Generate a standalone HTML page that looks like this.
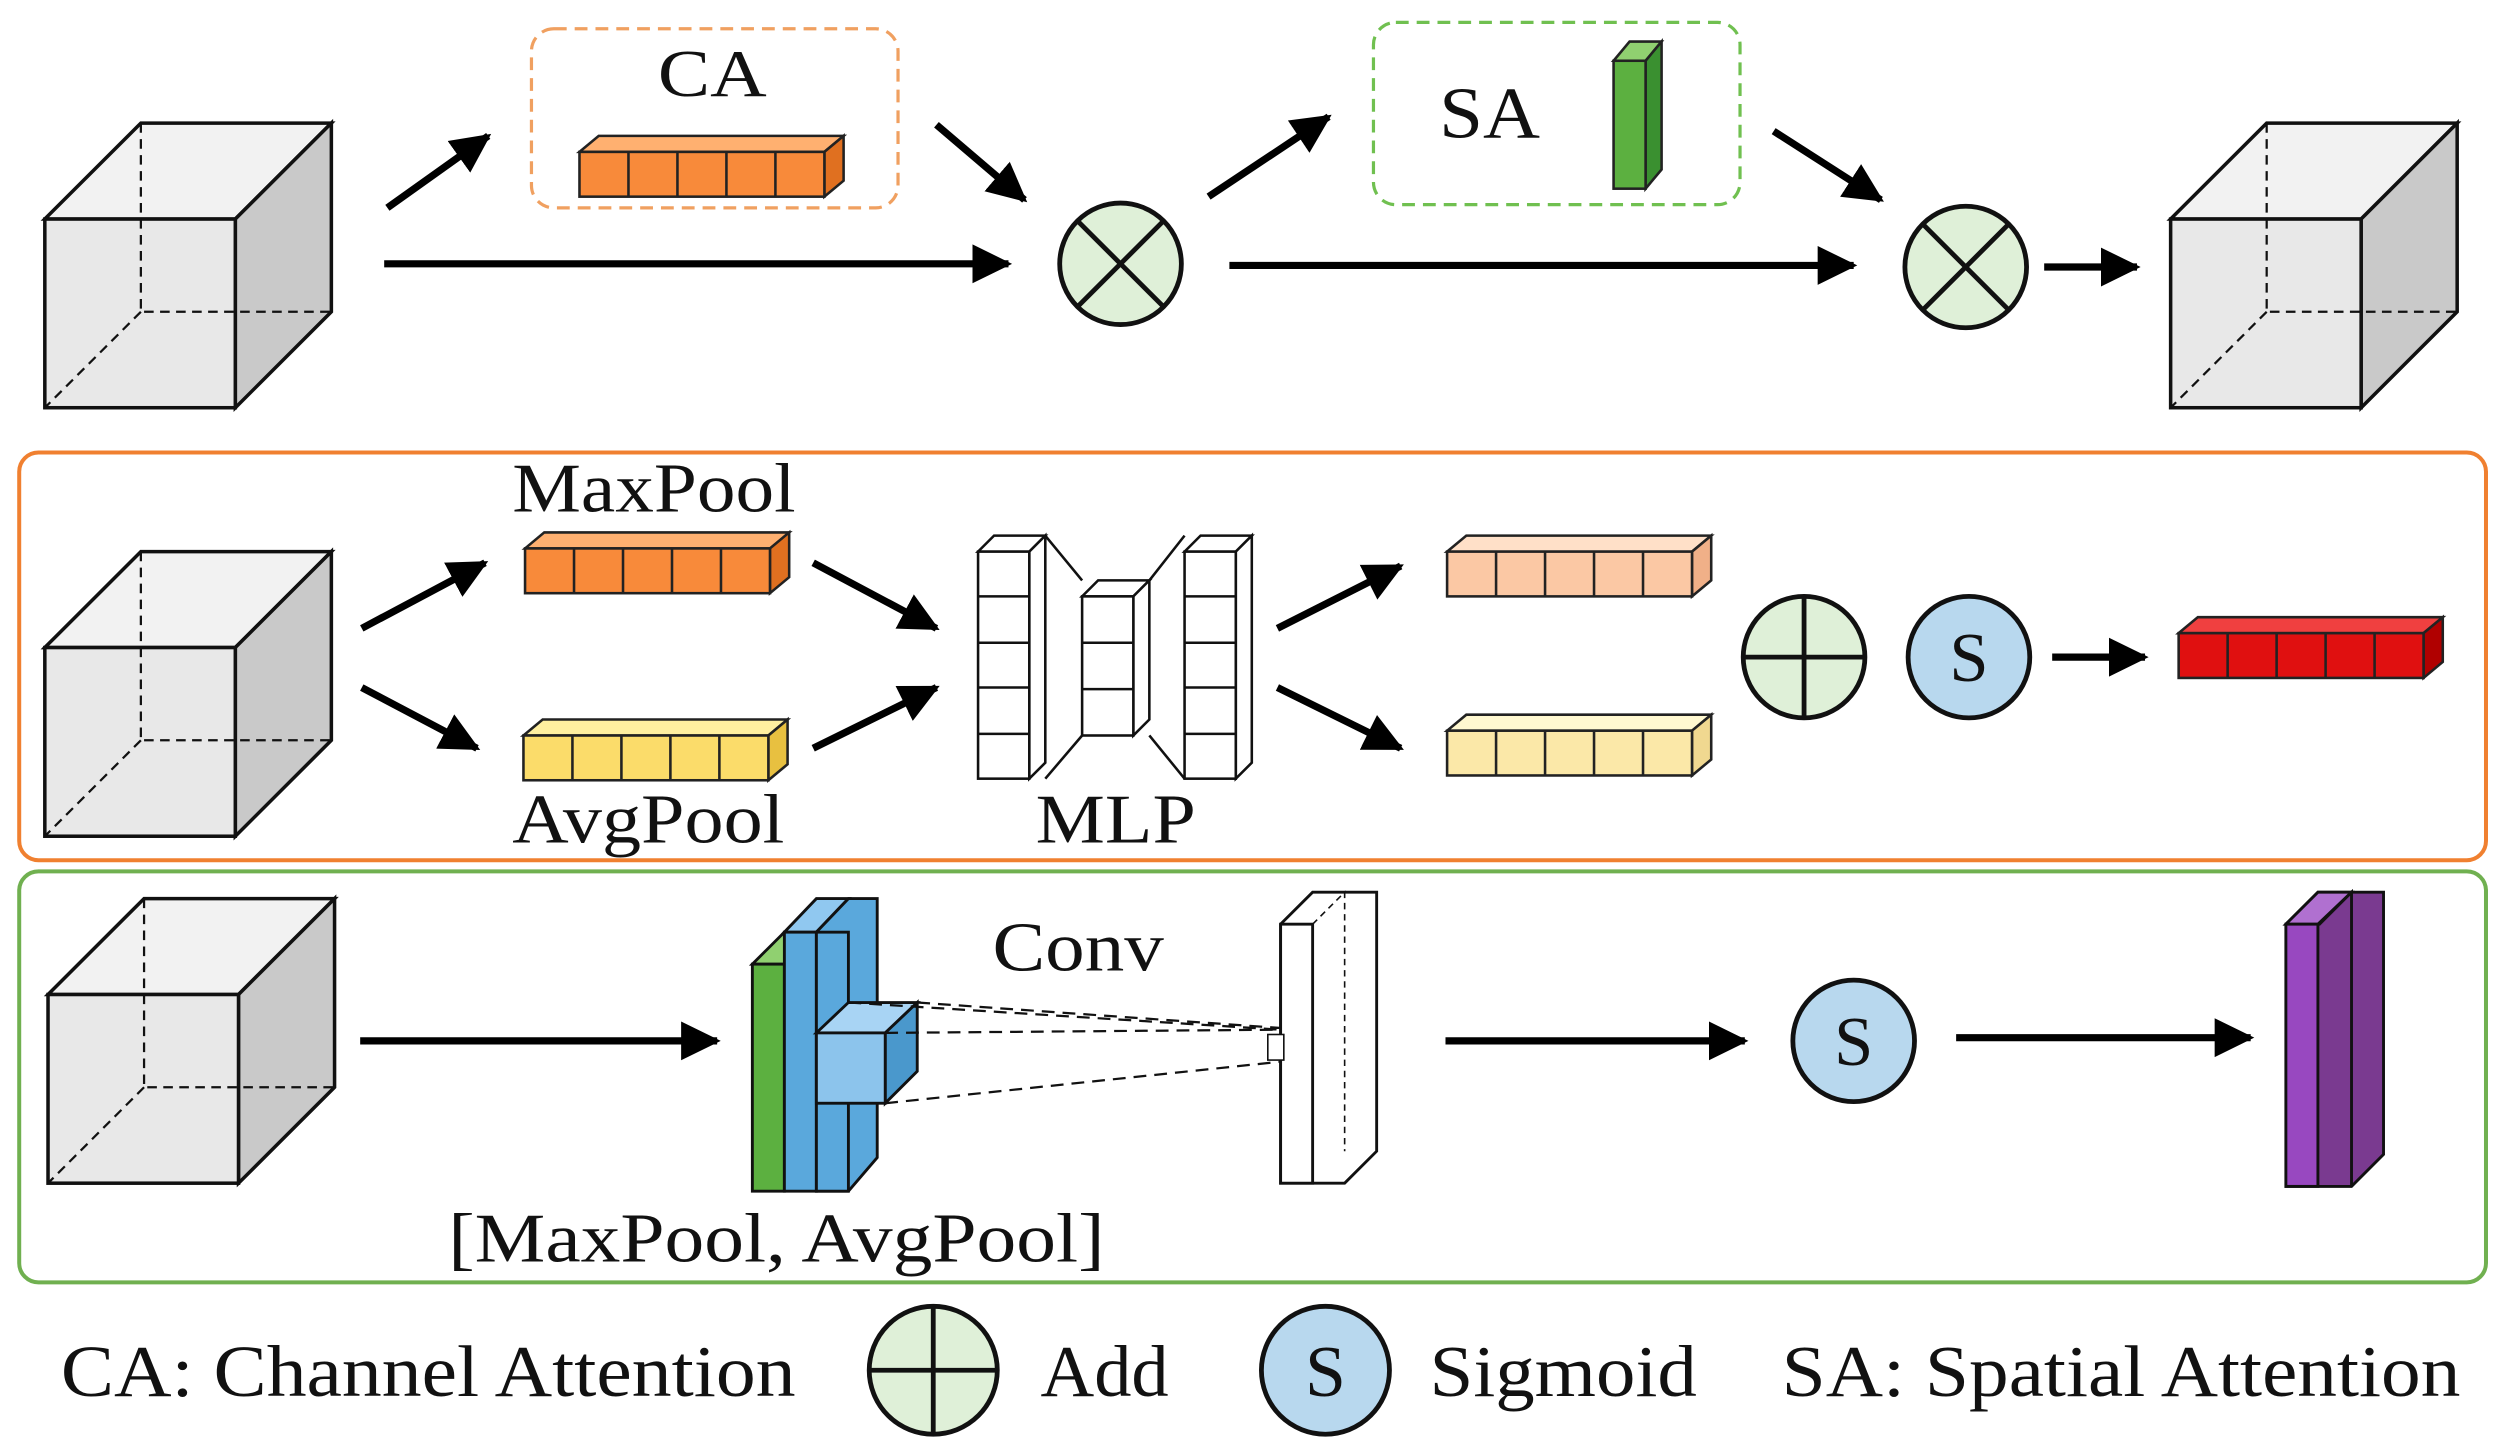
<!DOCTYPE html>
<html><head><meta charset="utf-8"><style>html,body{margin:0;padding:0;background:#fff}svg{display:block}text{font-family:"Liberation Serif",serif;fill:#111}</style></head>
<body>
<svg width="2510" height="1455" viewBox="0 0 1568 910" preserveAspectRatio="none" xmlns="http://www.w3.org/2000/svg">
<defs>
<marker id="ah" markerWidth="6" markerHeight="6" refX="5" refY="3" orient="auto" markerUnits="strokeWidth"><path d="M0,0.3 L5.5,3 L0,5.7 Z" fill="#000"/></marker>
<g id="cube" stroke="#111" stroke-width="2.2">
<polygon points="0,60 60,0 179,0 119,60" fill="#f2f2f2"/>
<polygon points="119,60 179,0 179,118 119,178" fill="#c9c9c9"/>
<rect x="0" y="60" width="119" height="118" fill="#e8e8e8"/>
<g stroke-dasharray="6,4" stroke-width="1.4" fill="none"><path d="M60,0 V118 H179 M60,118 L0,178"/></g>
</g>
</defs>
<rect x="12" y="283" width="1541" height="255" rx="12" fill="none" stroke="#f08030" stroke-width="2.5"/>
<rect x="12" y="545" width="1541" height="257" rx="12" fill="none" stroke="#70b050" stroke-width="2.5"/>
<rect x="332" y="18" width="229" height="112" rx="14" fill="none" stroke="#f0a060" stroke-width="2" stroke-dasharray="8,5"/>
<rect x="858" y="14" width="229" height="114" rx="14" fill="none" stroke="#70c050" stroke-width="2" stroke-dasharray="8,5"/>
<use href="#cube" x="28" y="77"/>
<use href="#cube" x="1356" y="77"/>
<use href="#cube" x="28" y="345"/>
<use href="#cube" x="30" y="562"/>
<g stroke="#222" stroke-width="1.6">
<g transform="translate(362,95)"><polygon points="0,0 12,-10 165,-10 153,0" fill="#ffb070"/><polygon points="153,0 165,-10 165,18 153,28" fill="#e07020"/><rect width="153" height="28" fill="#f88a3a"/><path d="M30.6,0V28M61.2,0V28M91.8,0V28M122.4,0V28" fill="none"/></g>
<g transform="translate(328,343)"><polygon points="0,0 12,-10 165,-10 153,0" fill="#ffb070"/><polygon points="153,0 165,-10 165,18 153,28" fill="#e07020"/><rect width="153" height="28" fill="#f88a3a"/><path d="M30.6,0V28M61.2,0V28M91.8,0V28M122.4,0V28" fill="none"/></g>
<g transform="translate(327,460)"><polygon points="0,0 12,-10 165,-10 153,0" fill="#fff0a0"/><polygon points="153,0 165,-10 165,18 153,28" fill="#e8c040"/><rect width="153" height="28" fill="#fbdc6a"/><path d="M30.6,0V28M61.2,0V28M91.8,0V28M122.4,0V28" fill="none"/></g>
<g transform="translate(904,345)"><polygon points="0,0 12,-10 165,-10 153,0" fill="#ffe0c8"/><polygon points="153,0 165,-10 165,18 153,28" fill="#f0b088"/><rect width="153" height="28" fill="#fbc8a4"/><path d="M30.6,0V28M61.2,0V28M91.8,0V28M122.4,0V28" fill="none"/></g>
<g transform="translate(904,457)"><polygon points="0,0 12,-10 165,-10 153,0" fill="#fff8d0"/><polygon points="153,0 165,-10 165,18 153,28" fill="#f0d890"/><rect width="153" height="28" fill="#fbe8a8"/><path d="M30.6,0V28M61.2,0V28M91.8,0V28M122.4,0V28" fill="none"/></g>
<g transform="translate(1361,396)"><polygon points="0,0 12,-10 165,-10 153,0" fill="#f04040"/><polygon points="153,0 165,-10 165,18 153,28" fill="#b00000"/><rect width="153" height="28" fill="#e01010"/><path d="M30.6,0V28M61.2,0V28M91.8,0V28M122.4,0V28" fill="none"/></g>
<g transform="translate(1008,38)"><polygon points="0,0 20,0 30,-12 10,-12" fill="#90d070"/><polygon points="20,0 30,-12 30,68 20,80" fill="#3a9030"/><rect width="20" height="80" fill="#5cb040"/></g>
</g>
<g stroke="#111" stroke-width="1.6" fill="#fff">
<path d="M653,335 L676,363 M653,487 L676,460 M718,363 L740,335 M718,460 L740,487" fill="none"/>
<g><polygon points="611,345 621,335 653,335 643,345"/><polygon points="643,345 653,335 653,477 643,487"/><rect x="611" y="345" width="32" height="142"/><path d="M611,373H643M611,402H643M611,430H643M611,459H643" fill="none"/></g>
<g><polygon points="676,373 686,363 718,363 708,373"/><polygon points="708,373 718,363 718,450 708,460"/><rect x="676" y="373" width="32" height="87"/><path d="M676,402H708M676,431H708" fill="none"/></g>
<g><polygon points="740,345 750,335 782,335 772,345"/><polygon points="772,345 782,335 782,477 772,487"/><rect x="740" y="345" width="32" height="142"/><path d="M740,373H772M740,402H772M740,430H772M740,459H772" fill="none"/></g>
</g>
<g stroke="#111" stroke-width="1.8">
<polygon points="470,603 490,583 510,583 490,603" fill="#90d070"/><rect x="470" y="603" width="20" height="142" fill="#5cb040"/>
<polygon points="490,583 510,562 530,562 510,583" fill="#90c8f0"/><rect x="490" y="583" width="20" height="162" fill="#5aa8dc"/>
<polygon points="510,583 530,562 548,562 548,724 530,745 510,745" fill="#5aa8dc"/><rect x="510" y="583" width="20" height="162" fill="#5aa8dc"/>
<polygon points="510,646 530,627 573,627 553,646" fill="#a8d4f4"/><polygon points="553,646 573,627 573,670 553,690" fill="#4a98cc"/><rect x="510" y="646" width="43" height="44" fill="#8cc4ec"/>
<g stroke-dasharray="8,5" stroke-width="1.4"><path d="M530,627L800,644M573,627L815,644M553,690L800,664M553,646L800,644"/></g>
<polygon points="800,578 820,558 860,558 860,720 840,740 820,740 800,740" fill="#fff"/><rect x="800" y="578" width="20" height="162" fill="#fff"/><path d="M820,578L840,558V720" fill="none" stroke-width="1" stroke-dasharray="4,3"/>
<rect x="792" y="647" width="10" height="16" fill="#fff" stroke-width="1"/>
<polygon points="1428,578 1448,558 1489,558 1489,722 1469,742 1448,742 1428,742" fill="#7a3a90"/><polygon points="1428,578 1448,558 1469,558 1449,578" fill="#b070d0"/><rect x="1428" y="578" width="20" height="164" fill="#9848c0"/><path d="M1448,578L1469,558V742" fill="none"/>
</g>
<g stroke="#111" stroke-width="3">
<circle cx="700" cy="165" r="38" fill="#dff0d8"/><path d="M673,138L727,192M727,138L673,192"/>
<circle cx="1228" cy="167" r="38" fill="#dff0d8"/><path d="M1201,140L1255,194M1255,140L1201,194"/>
<circle cx="1127" cy="411" r="38" fill="#dff0d8"/><path d="M1127,373V449M1089,411H1165"/>
<circle cx="1230" cy="411" r="38" fill="#b8d8ee"/>
<circle cx="1158" cy="651" r="38" fill="#b8d8ee"/>
<circle cx="583" cy="857" r="40" fill="#dff0d8"/><path d="M583,817V897M543,857H623"/>
<circle cx="828" cy="857" r="40" fill="#b8d8ee"/>
</g>
<g stroke="#000" stroke-width="4.5" fill="none" marker-end="url(#ah)">
<path d="M242,130L305,85"/><path d="M240,165L630,165"/><path d="M585,78L640,125"/>
<path d="M755,123L830,73"/><path d="M768,166L1158,166"/><path d="M1108,82L1175,125"/>
<path d="M1277,167L1335,167"/>
<path d="M226,393L303,352"/><path d="M226,430L298,468"/><path d="M508,352L585,393"/><path d="M508,468L585,430"/>
<path d="M798,393L875,354"/><path d="M798,430L875,468"/><path d="M1282,411L1340,411"/>
<path d="M225,651L448,651"/><path d="M903,651L1090,651"/><path d="M1222,649L1406,649"/>
</g>
<text x="411" y="60" font-size="42" textLength="68" lengthAdjust="spacingAndGlyphs">CA</text>
<text x="899" y="86" font-size="46" textLength="63" lengthAdjust="spacingAndGlyphs">SA</text>
<text x="320" y="320" font-size="44" textLength="177" lengthAdjust="spacingAndGlyphs">MaxPool</text>
<text x="320" y="527" font-size="44" textLength="170" lengthAdjust="spacingAndGlyphs">AvgPool</text>
<text x="647" y="527" font-size="44" textLength="100" lengthAdjust="spacingAndGlyphs">MLP</text>
<text x="1230" y="426" font-size="44" text-anchor="middle">S</text>
<text x="1158" y="666" font-size="44" text-anchor="middle">S</text>
<text x="620" y="607" font-size="44" textLength="107" lengthAdjust="spacingAndGlyphs">Conv</text>
<text x="280" y="789" font-size="44" textLength="410" lengthAdjust="spacingAndGlyphs">[MaxPool, AvgPool]</text>
<text x="38" y="873" font-size="46" textLength="459" lengthAdjust="spacingAndGlyphs">CA: Channel Attention</text>
<text x="650" y="873" font-size="46" textLength="80" lengthAdjust="spacingAndGlyphs">Add</text>
<text x="828" y="873" font-size="46" text-anchor="middle">S</text>
<text x="893" y="873" font-size="46" textLength="167" lengthAdjust="spacingAndGlyphs">Sigmoid</text>
<text x="1113" y="873" font-size="46" textLength="424" lengthAdjust="spacingAndGlyphs">SA: Spatial Attention</text>
</svg>
</body></html>
